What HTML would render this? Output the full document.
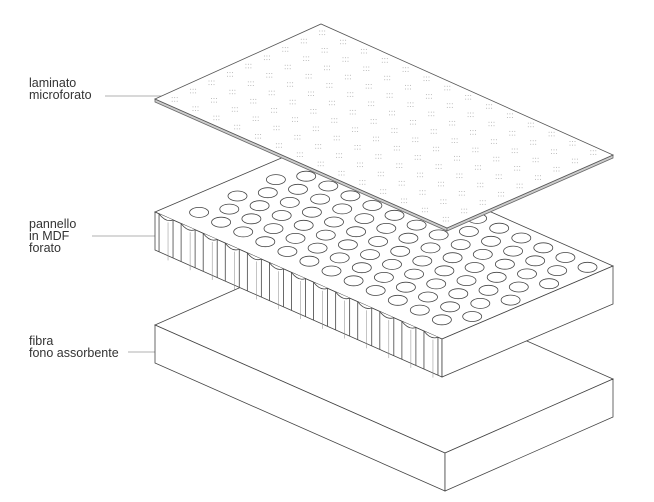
<!DOCTYPE html>
<html><head><meta charset="utf-8"><style>
html,body{margin:0;padding:0;background:#fff;width:654px;height:502px;overflow:hidden}
.l{position:absolute;font-family:"Liberation Sans",sans-serif;font-size:12.5px;line-height:12px;color:#333}
</style></head><body>
<svg id="s" width="654" height="502" style="position:absolute;left:0;top:0" fill="#fff" stroke="#444" stroke-width="0.8">
<g stroke="#999" stroke-width="0.7">
<line x1="105" y1="96" x2="175" y2="96"/>
<line x1="92" y1="236" x2="158" y2="236"/>
<line x1="128" y1="352" x2="158" y2="352"/>
</g>
<polygon points="155,325 323,251 613,379 445,453"/>
<polygon points="155,325 445,453 445,491 155,363"/>
<polygon points="445,453 613,379 613,417 445,491"/>
<g id="mdf"></g>
<g id="lam"></g>
</svg>
<div class="l" style="left:29px;top:77px">laminato<br>microforato</div>
<div class="l" style="left:29px;top:218px">pannello<br>in MDF<br>forato</div>
<div class="l" style="left:29px;top:335px">fibra<br>fono assorbente</div>
<script>
var NS="http://www.w3.org/2000/svg";
function el(p,t,a){var e=document.createElementNS(NS,t);for(var k in a)e.setAttribute(k,a[k]);p.appendChild(e);return e;}
var m=document.getElementById("mdf");
var L=[155,212],F=[442,339],R=[613,266],B=[326,139],H=38;
el(m,"polygon",{points:[L,B,R,F].join(" ")});
el(m,"polygon",{points:[L,F,[F[0],F[1]+H],[L[0],L[1]+H]].join(" ")});
el(m,"polygon",{points:[F,R,[R[0],R[1]+H],[F[0],F[1]+H]].join(" ")});
var nu=13;
var du=[(F[0]-L[0])/nu,(F[1]-L[1])/nu];
var vl=Math.hypot(B[0]-L[0],B[1]-L[1]);var vu=[(B[0]-L[0])/vl,(B[1]-L[1])/vl];
for(var j=1;j<12;j++){
 var vd=3+20.9*j; if(vd>vl-8)break;
 var sh=(j%2)?0:0.5;
 for(var i=0;i<=nu;i++){
  var t=i+sh; if(t<0.6||t>nu-0.4)continue;
  var cx=L[0]+du[0]*t+vu[0]*vd,cy=L[1]+du[1]*t+vu[1]*vd;
  el(m,"ellipse",{cx:cx.toFixed(1),cy:cy.toFixed(1),rx:9.5,ry:5});
 }
}
for(var i=0;i<nu;i++){
 var cx=L[0]+du[0]*(i+0.5),cy=L[1]+du[1]*(i+0.5);
 el(m,"path",{d:"M"+(cx-7)+","+(cy-3)+" q7,9 14,6",fill:"#fff"});
 el(m,"line",{x1:cx-7,y1:cy-3,x2:cx-7,y2:cy-3+H});
 el(m,"line",{x1:cx+7,y1:cy+3,x2:cx+7,y2:cy+3+H});
 el(m,"line",{x1:cx+2,y1:cy+5.5,x2:cx+2,y2:cy+5.5+H,stroke:"#888","stroke-width":0.5});
}
var g=document.getElementById("lam");
var a=[155,99],b=[321,24],c=[613,155],d=[447,228];
el(g,"polygon",{points:[a,d,[d[0],d[1]+3],[a[0],a[1]+3]].join(" "),fill:"#ccc",stroke:"#666"});
el(g,"polygon",{points:[d,c,[c[0],c[1]+3],[d[0],d[1]+3]].join(" "),fill:"#ccc",stroke:"#666"});
el(g,"polygon",{points:[a,b,c,d].join(" "),stroke:"#555"});
var nu2=14,nv2=9;
var eu=[(d[0]-a[0])/nu2,(d[1]-a[1])/nu2],ev=[(b[0]-a[0])/nv2,(b[1]-a[1])/nv2];
for(var i=0;i<nu2;i++)for(var j=0;j<nv2;j++){
 var cx=a[0]+eu[0]*(i+0.5)+ev[0]*(j+0.5),cy=a[1]+eu[1]*(i+0.5)+ev[1]*(j+0.5);
 for(var p=-1;p<=1;p++)for(var q=-1;q<=1;q+=2)
  el(g,"circle",{cx:(cx+p*2.5).toFixed(1),cy:(cy+q*1.8).toFixed(1),r:0.5,fill:"#aaa",stroke:"none"});
}
</script>
</body></html>
